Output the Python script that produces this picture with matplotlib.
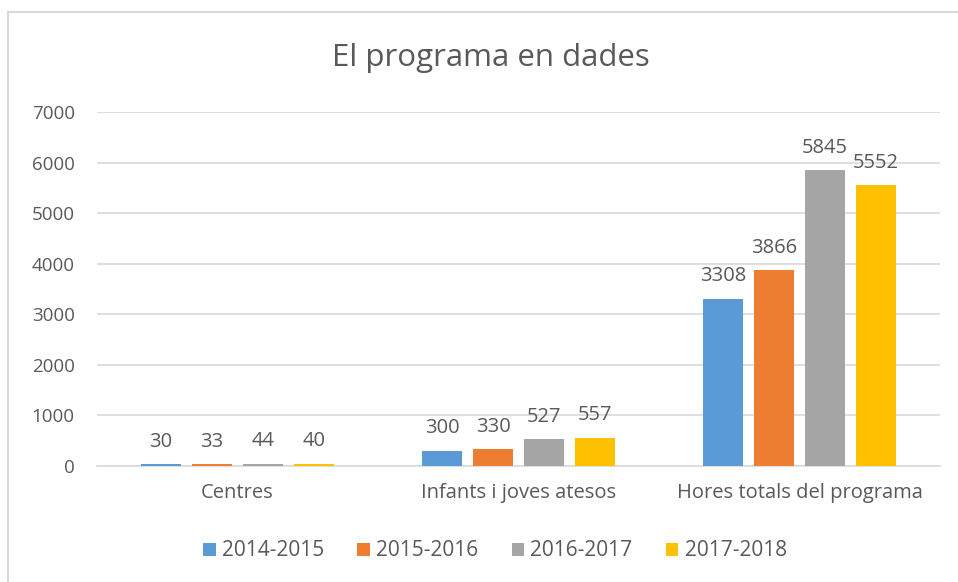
import matplotlib
matplotlib.use("Agg")
import matplotlib.pyplot as plt
import numpy as np
from matplotlib.patches import Rectangle

categories = ["Centres", "Infants i joves atesos", "Hores totals del programa"]
series = ["2014-2015", "2015-2016", "2016-2017", "2017-2018"]
values_1415 = [30, 300, 3308]
values_1516 = [33, 330, 3866]
values_1617 = [44, 527, 5845]
values_1718 = [40, 557, 5552]
colors = ["#5b9bd5", "#ed7d31", "#a5a5a5", "#ffc000"]

TXT = "#595959"
plt.rcParams["font.family"] = ["Open Sans", "DejaVu Sans"]

fig = plt.figure(figsize=(9.58, 5.82), dpi=100)
fig.patches.append(Rectangle((8 / 958, -0.01), 1.0, 1 - 12 / 582 + 0.01,
                             transform=fig.transFigure, fill=False,
                             edgecolor="#d9d9d9", linewidth=1.5))

ax = fig.add_axes([97 / 958, 1 - 466 / 582, 843 / 958, 354 / 582])
x = np.arange(len(categories))
width = 40 / 281
step = 51 / 281
all_vals = [values_1415, values_1516, values_1617, values_1718]
for i, (name, vals, c) in enumerate(zip(series, all_vals, colors)):
    bars = ax.bar(x + (i - 1.5) * step, vals, width, color=c, label=name, zorder=3)
    for b, v in zip(bars, vals):
        ax.annotate(str(v), (b.get_x() + b.get_width() / 2, v), xytext=(0, 9),
                    textcoords="offset points", ha="center", va="bottom",
                    fontsize=14.5, color=TXT)

ax.set_xlim(-0.5, 2.5)
ax.set_ylim(0, 7000)
ax.set_yticks(range(0, 7001, 1000))
ax.set_xticks(x)
ax.set_xticklabels(categories)
ax.grid(axis="y", color="#d9d9d9", linewidth=1.2, zorder=0)
for s in ["top", "right", "left"]:
    ax.spines[s].set_visible(False)
ax.spines["bottom"].set_color("#d9d9d9")
ax.spines["bottom"].set_linewidth(1.2)
ax.tick_params(axis="x", length=0, labelsize=14.5, colors=TXT, pad=12)
ax.tick_params(axis="y", length=0, labelsize=13.5, colors=TXT, pad=16)

fig.text(491 / 958, 1 - 58 / 582, "El programa en dades", ha="center", va="center",
         fontsize=22.5, color=TXT)

ax.legend(loc="center", bbox_to_anchor=(0.472, -0.24), ncol=4, frameon=False,
          fontsize=15, labelcolor=TXT, handlelength=0.6, handleheight=0.6,
          handletextpad=0.3, columnspacing=1.6)

fig.savefig("out.png", dpi=100)
